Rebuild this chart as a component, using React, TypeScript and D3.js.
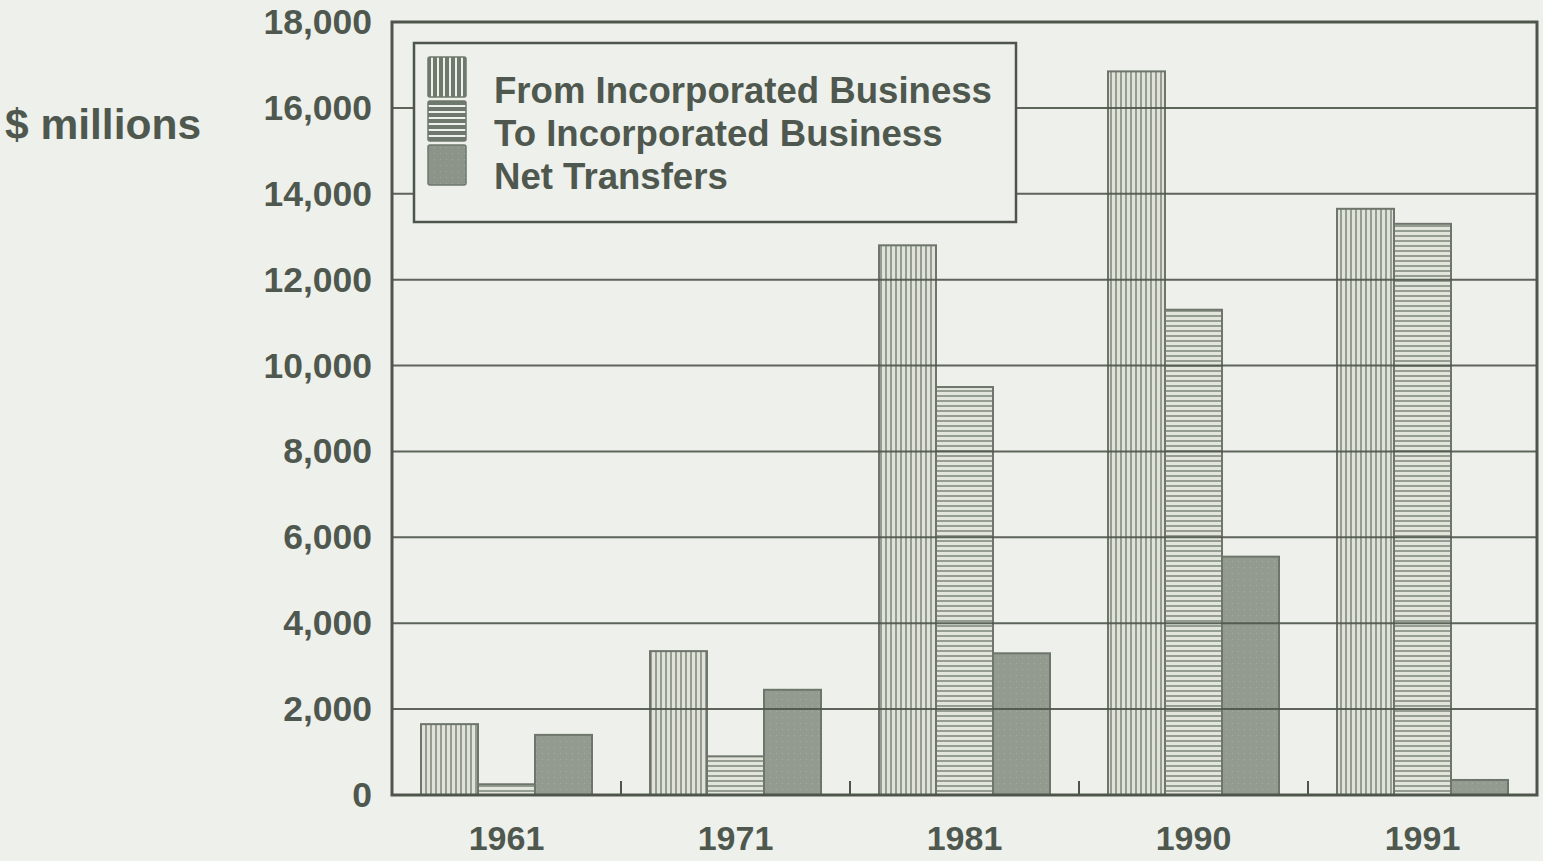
import React from "react";
import * as d3 from "d3";

const years = ["1961", "1971", "1981", "1990", "1991"];
const seriesNames = ["From Incorporated Business", "To Incorporated Business", "Net Transfers"];
const fromValues = [1650, 3350, 12800, 16850, 13650];
const toValues = [250, 900, 9500, 11300, 13300];
const netValues = [1400, 2450, 3300, 5550, 350];
const yTicks = [0, 2000, 4000, 6000, 8000, 10000, 12000, 14000, 16000, 18000];

const W = 1543;
const H = 861;
const BG = "#eef0eb";
const INK = "#4f584e";
const FONT = "'Liberation Sans', Arial, Helvetica, sans-serif";

export default function App() {
  const left = 392, right = 1537, top = 22, bottom = 795;
  const x = d3.scaleBand<string>().domain(years).range([left, right]).paddingInner(0).paddingOuter(0);
  const y = d3.scaleLinear().domain([0, 18000]).range([bottom, top]);
  const barW = 57;
  const series = [fromValues, toValues, netValues];
  const fills = ["url(#vstripe)", "url(#hstripe)", "url(#solid)"];
  const swatchFills = ["url(#vstripeL)", "url(#hstripeL)", "url(#solidL)"];
  const groupOffset = (x.bandwidth() - 3 * barW) / 2;

  return (
    <svg width={W} height={H} style={{ position: "absolute", left: 0, top: 0, background: BG }}>
      <defs>
        <pattern id="vstripe" width="5" height="10" patternUnits="userSpaceOnUse">
          <rect width="5" height="10" fill="#dfe3d9" />
          <rect width="2" height="10" fill="#959d92" />
        </pattern>
        <pattern id="hstripe" width="10" height="5" patternUnits="userSpaceOnUse">
          <rect width="10" height="5" fill="#e1e5dc" />
          <rect width="10" height="2" fill="#959d92" />
        </pattern>
        <pattern id="solid" width="6" height="6" patternUnits="userSpaceOnUse">
          <rect width="6" height="6" fill="#939a90" />
          <rect x="2" y="3" width="1" height="1" fill="#a6ada3" />
        </pattern>
        <pattern id="vstripeL" x="428" width="6" height="10" patternUnits="userSpaceOnUse">
          <rect width="6" height="10" fill="#6f786d" />
          <rect x="3" width="2" height="10" fill="#eef0eb" />
        </pattern>
        <pattern id="hstripeL" y="102" width="10" height="6" patternUnits="userSpaceOnUse">
          <rect width="10" height="6" fill="#6f786d" />
          <rect y="3" width="10" height="2" fill="#eef0eb" />
        </pattern>
        <pattern id="solidL" width="6" height="6" patternUnits="userSpaceOnUse">
          <rect width="6" height="6" fill="#8c9489" />
          <rect x="2" y="3" width="1" height="1" fill="#a0a79d" />
        </pattern>
      </defs>
      <rect x={0} y={0} width={W} height={H} fill={BG} />

      {/* bars */}
      {years.map((yr, i) => (
        <g key={yr}>
          {series.map((vals, s) => (
            <rect
              key={s}
              x={(x(yr) as number) + groupOffset + s * barW}
              y={y(vals[i])}
              width={barW}
              height={bottom - y(vals[i])}
              fill={fills[s]}
              stroke="#6e766c"
              strokeWidth={2}
            />
          ))}
        </g>
      ))}

      {/* gridlines */}
      {yTicks.filter((t) => t > 0 && t < 18000).map((t) => (
        <line key={t} x1={left} x2={right} y1={y(t)} y2={y(t)} stroke="#4e564c" strokeWidth={2} opacity={0.9} />
      ))}

      {/* frame */}
      <rect x={left} y={top} width={right - left} height={bottom - top} fill="none" stroke="#4e564c" strokeWidth={3} />

      {/* x-axis group ticks */}
      {years.slice(1).map((yr) => (
        <line key={yr} x1={x(yr) as number} x2={x(yr) as number} y1={bottom} y2={bottom - 14} stroke="#4e564c" strokeWidth={2} />
      ))}

      {/* y tick labels */}
      {yTicks.map((t) => (
        <text key={t} x={372} y={y(t) + 12} textAnchor="end" fontFamily={FONT} fontWeight="bold" fontSize={35.5} fill={INK}>
          {d3.format(",")(t)}
        </text>
      ))}

      {/* x labels */}
      {years.map((yr) => (
        <text key={yr} x={(x(yr) as number) + x.bandwidth() / 2} y={850} textAnchor="middle" fontFamily={FONT} fontWeight="bold" fontSize={34} fill={INK}>
          {yr}
        </text>
      ))}

      {/* y-axis title */}
      <text x={5} y={139} fontFamily={FONT} fontWeight="bold" fontSize={42.5} fill={INK}>$ millions</text>

      {/* legend */}
      <rect x={414} y={43} width={602} height={179} fill={BG} stroke="#4e564c" strokeWidth={2.5} />
      {seriesNames.map((name, s) => (
        <g key={name}>
          <rect x={428} y={57 + s * 44} width={38} height={40} rx={2} fill={swatchFills[s]} stroke="#6f786d" strokeWidth={1.5} />
          <text x={494} y={103 + s * 43} fontFamily={FONT} fontWeight="bold" fontSize={36.6} fill={INK}>{name}</text>
        </g>
      ))}
    </svg>
  );
}
